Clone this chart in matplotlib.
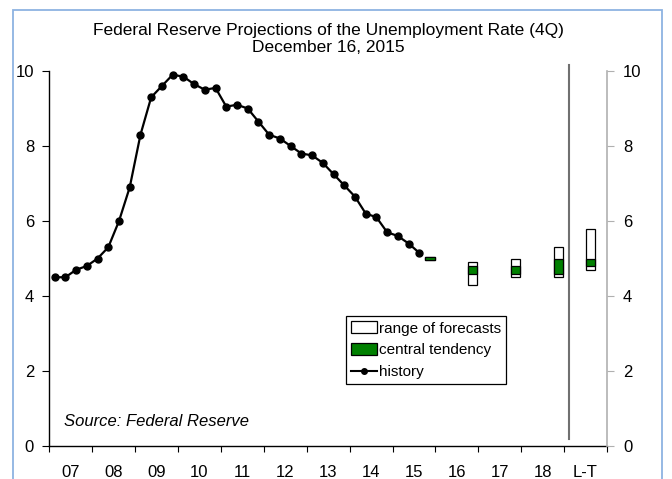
import matplotlib
matplotlib.use("Agg")
import matplotlib.pyplot as plt
from matplotlib.patches import Rectangle
from matplotlib.lines import Line2D
import numpy as np

plt.rcParams['font.family'] = ['Liberation Sans', 'DejaVu Sans']

# ---- data ----
year_labels = ['07', '08', '09', '10', '11', '12', '13', '14', '15', '16', '17', '18', 'L-T']
history = [4.5, 4.5, 4.7, 4.8,
           5.0, 5.3, 6.0, 6.9,
           8.3, 9.3, 9.6, 9.9,
           9.85, 9.65, 9.5, 9.55,
           9.05, 9.1, 9.0, 8.65,
           8.3, 8.2, 8.0, 7.8,
           7.75, 7.55, 7.25, 6.95,
           6.65, 6.2, 6.1, 5.7,
           5.6, 5.4, 5.15]
proj_labels = ['2015', '2016', '2017', '2018', 'Longer run']
proj_quarter_index = [35, 39, 43, 47, 50]
range_low = [4.95, 4.3, 4.5, 4.5, 4.7]
range_high = [5.05, 4.9, 5.0, 5.3, 5.8]
ct_low = [4.95, 4.6, 4.6, 4.6, 4.8]
ct_high = [5.05, 4.8, 4.8, 5.0, 5.0]
divider_index = 48

W, H = 672, 479
fig = plt.figure(figsize=(W / 100, H / 100), dpi=100)

# figure border
fig.patches.append(Rectangle((13 / W, -0.02), (662 - 13) / W, (479 - 10) / H + 0.02,
                             transform=fig.transFigure, fill=False,
                             edgecolor='#8db3e2', linewidth=1.3))

left, right = 49.3 / W, 607 / W
bottom, top = 1 - 446 / H, 1 - 71 / H
ax = fig.add_axes([left, bottom, right - left, top - bottom])
ax.set_xlim(-0.5, 51.5)
ax.set_ylim(0, 10)

# history
hx = np.arange(len(history))
ax.plot(hx, history, color='black', linewidth=1.6, marker='o', markersize=5,
        zorder=4, clip_on=False)

# projections
bw = 0.85
ax.bar(proj_quarter_index, np.array(range_high) - np.array(range_low), bottom=range_low,
       width=bw, color='white', edgecolor='black', linewidth=0.9, zorder=3)
ax.bar(proj_quarter_index, np.array(ct_high) - np.array(ct_low), bottom=ct_low,
       width=bw, color='#008000', edgecolor='black', linewidth=0.9, zorder=3)

# divider line
ax.plot([divider_index, divider_index], [0.2, 10.15], color='#707070', linewidth=1.5,
        clip_on=False, zorder=2)

# spines & ticks
for s in ['top', 'right']:
    ax.spines[s].set_visible(False)
ax.spines['left'].set_linewidth(1.0)
ax.spines['bottom'].set_linewidth(1.0)
ax.set_yticks(np.arange(0, 11, 2))
ax.tick_params(axis='y', direction='out', length=5, width=0.8, pad=6, labelsize=12)

major_x = np.arange(-0.5, 52, 4)
ax.set_xticks(major_x)
ax.set_xticklabels([])
ax.set_xticks(np.arange(1.5, 52, 4), minor=True)
ax.set_xticklabels(year_labels, minor=True)
ax.tick_params(axis='x', which='major', direction='out', length=4, width=0.8)
ax.tick_params(axis='x', which='minor', length=0, pad=13.5, labelsize=12)

ax2 = ax.twinx()
ax2.set_ylim(0, 10)
ax2.set_yticks(np.arange(0, 11, 2))
for s in ['top', 'left', 'bottom']:
    ax2.spines[s].set_visible(False)
ax2.spines['right'].set_color('#b0b0b0')
ax2.spines['right'].set_linewidth(1.2)
ax2.tick_params(axis='y', direction='out', length=5, width=0.8, color='#b0b0b0',
                pad=6.5, labelsize=12)

# titles
cx = (left + right) / 2
fig.text(cx, 1 - 30 / H, 'Federal Reserve Projections of the Unemployment Rate (4Q)',
         ha='center', va='center', fontsize=12.5)
fig.text(cx, 1 - 48 / H, 'December 16, 2015', ha='center', va='center', fontsize=12.5)

# source
fig.text(64 / W, 1 - 421 / H, 'Source: Federal Reserve', ha='left', va='center',
         fontsize=12, style='italic')

# legend
handles = [Rectangle((0, 0), 1, 1, facecolor='white', edgecolor='black', linewidth=0.9),
           Rectangle((0, 0), 1, 1, facecolor='#008000', edgecolor='black', linewidth=0.9),
           Line2D([], [], color='black', linewidth=1.5, marker='o', markersize=4)]
leg = fig.legend(handles, ['range of forecasts', 'central tendency', 'history'],
                 loc='upper left', bbox_to_anchor=(346 / W, 1 - 316 / H),
                 fontsize=11, frameon=True, fancybox=False, framealpha=1,
                 handlelength=1.7, handleheight=0.8, handletextpad=0.1,
                 labelspacing=0.5, borderpad=0.35, borderaxespad=0)
leg.get_frame().set_edgecolor('black')
leg.get_frame().set_linewidth(0.9)

fig.savefig('out.png', dpi=100)
